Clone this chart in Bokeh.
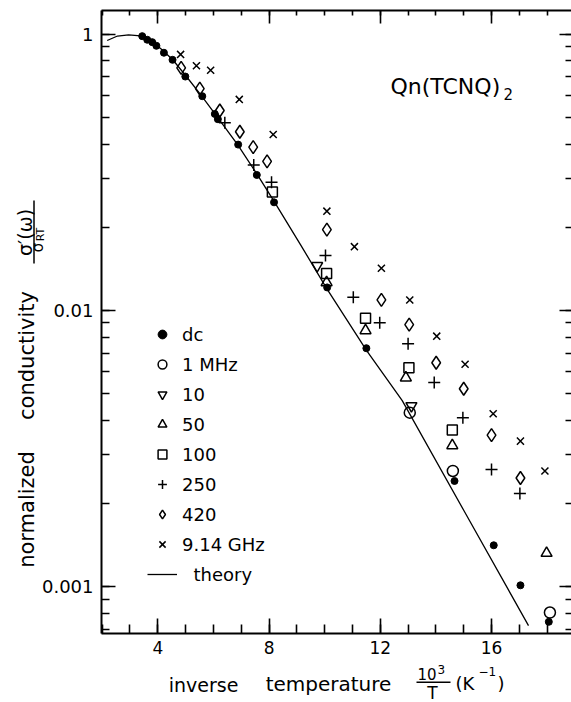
from bokeh.plotting import figure
from bokeh.models import (Range1d, LinearAxis, LogAxis, LogTicker, SingleIntervalTicker,
                          Label, Legend, LegendItem, Arrow, CustomJSTickFormatter)
from bokeh.embed import file_html
from bokeh.resources import INLINE

# ---------------- data ----------------
dc_x = [3.44, 3.62, 3.80, 3.95, 4.22, 4.53, 4.99, 5.60, 6.05, 6.16, 6.89, 7.56, 8.18,
        10.09, 11.50, 14.67, 16.08, 17.04, 18.06]
dc_y = [0.983, 0.954, 0.935, 0.907, 0.856, 0.807, 0.702, 0.596, 0.514, 0.492, 0.398, 0.309, 0.246,
        0.121, 0.0729, 0.0241, 0.0141, 0.0101, 0.00745]
mhz1_x = [13.06, 14.61, 18.10]
mhz1_y = [0.0426, 0.0262, 0.00805]
mhz10_x = [9.73, 13.12]
mhz10_y = [0.145, 0.0451]
mhz50_x = [10.07, 11.47, 12.92, 14.59, 17.98]
mhz50_y = [0.126, 0.0845, 0.0570, 0.0324, 0.0132]
mhz100_x = [8.12, 10.07, 11.47, 13.03, 14.59]
mhz100_y = [0.268, 0.136, 0.0936, 0.0619, 0.0369]
mhz250_x = [6.41, 7.45, 8.09, 10.03, 11.03, 11.98, 13.00, 13.94, 14.97, 16.00, 17.02]
mhz250_y = [0.478, 0.336, 0.291, 0.158, 0.1115, 0.0901, 0.0756, 0.0548, 0.0408, 0.0265, 0.0217]
mhz420_x = [4.84, 5.51, 6.23, 6.95, 7.43, 7.93, 10.08, 12.04, 13.04, 14.01, 15.00, 16.00, 17.04]
mhz420_y = [0.755, 0.635, 0.529, 0.443, 0.390, 0.346, 0.196, 0.109, 0.0888, 0.0646, 0.0520, 0.0353, 0.0247]
ghz_x = [4.82, 5.39, 5.90, 6.93, 8.15, 10.08, 11.07, 12.04, 13.06, 14.03, 15.05, 16.06, 17.04, 17.92]
ghz_y = [0.844, 0.768, 0.740, 0.580, 0.433, 0.2285, 0.170, 0.142, 0.109, 0.0806, 0.0638, 0.0422, 0.0336, 0.0262]
theory_x = [2.18, 2.55, 2.95, 3.38, 3.74, 4.10, 4.53, 5.00, 5.54, 6.15, 6.87, 7.55, 8.16,
            9.13, 10.07, 11.51, 12.79, 15.01, 17.33]
theory_y = [0.948, 0.984, 0.994, 0.986, 0.948, 0.887, 0.809, 0.708, 0.604, 0.499, 0.398, 0.313, 0.250,
            0.173, 0.120, 0.0715, 0.0471, 0.0188, 0.00722]

legend_labels = ["dc", "1 MHz", "10", "50", "100", "250", "420", "9.14 GHz", "  theory"]
y_tick_labels = {1: "1", 0.1: "0.01", 0.01: "0.001"}
title_text = "Qn(TCNQ)"

# axis box (data units)
X0, X1 = 1.976, 18.88
Y0, Y1 = 0.00674, 1.217

FONT = "DejaVu Sans"

# the frame covers the whole canvas; the axes are drawn at fixed data locations
p = figure(width=571, height=702, x_range=Range1d(-1.656, 18.876), y_range=Range1d(0.003802, 1.3232),
           y_axis_type="log", output_backend="svg", toolbar_location=None,
           min_border_left=0, min_border_right=0, min_border_top=0, min_border_bottom=0)
p.grid.visible = False
p.outline_line_color = None
p.background_fill_color = "white"
p.border_fill_color = "white"

# ---------------- axes ----------------
p.xaxis.ticker = SingleIntervalTicker(interval=4, num_minor_ticks=4)
p.yaxis.ticker = LogTicker(num_minor_ticks=10)
p.yaxis.major_label_overrides = y_tick_labels
p.xaxis.fixed_location = Y0
p.yaxis.fixed_location = X0

blank = CustomJSTickFormatter(code="return ''")
top = LinearAxis(ticker=SingleIntervalTicker(interval=4, num_minor_ticks=4), formatter=blank,
                 fixed_location=Y1)
right = LogAxis(ticker=LogTicker(num_minor_ticks=10), formatter=blank, fixed_location=X1)
p.add_layout(top, "above")
p.add_layout(right, "right")

for ax in p.xaxis:
    ax.bounds = (X0, X1)
for ax in p.yaxis:
    ax.bounds = (Y0, Y1)

for ax in p.xaxis + p.yaxis:
    ax.axis_line_width = 2
    ax.axis_line_color = "black"
    ax.major_tick_out = 0
    ax.minor_tick_out = 0
    ax.major_tick_line_width = 1.6
    ax.minor_tick_line_width = 1.6
    ax.major_tick_line_color = "black"
    ax.minor_tick_line_color = "black"
    ax.major_label_text_font = FONT
    ax.major_label_text_color = "black"

p.below[0].major_label_text_font_size = "17px"
p.below[0].major_tick_in = 15
p.below[0].minor_tick_in = 9
p.below[0].major_label_standoff = 7
p.left[0].major_label_text_font_size = "18px"
p.left[0].major_tick_in = 14
p.left[0].minor_tick_in = 8
p.left[0].major_label_standoff = 8
for ax in (top, right):
    ax.major_label_text_font_size = "1px"
    ax.major_label_standoff = 0
top.major_tick_in = 13
top.minor_tick_in = 5
right.major_tick_in = 12
right.minor_tick_in = 6
right.axis_line_color = None

# ---------------- data glyphs ----------------
r_theory = p.line(theory_x, theory_y, line_color="black", line_width=1.3)
common = dict(line_color="black", line_width=1.5, fill_alpha=0)
r_dc = p.scatter(dc_x, dc_y, marker="circle", size=7, fill_color="black", line_color="black")
r_1 = p.scatter(mhz1_x, mhz1_y, marker="circle", size=11, **common)
r_10 = p.scatter(mhz10_x, mhz10_y, marker="inverted_triangle", size=11, **common)
r_50 = p.scatter(mhz50_x, mhz50_y, marker="triangle", size=11, **common)
r_100 = p.scatter(mhz100_x, mhz100_y, marker="square", size=10, **common)
r_250 = p.scatter(mhz250_x, mhz250_y, marker="cross", size=12, line_color="black", line_width=1.5)
r_420 = p.scatter(mhz420_x, mhz420_y, marker="diamond", size=13, **common)
r_ghz = p.scatter(ghz_x, ghz_y, marker="x", size=10, line_color="black", line_width=1.5)

renderers = [r_dc, r_1, r_10, r_50, r_100, r_250, r_420, r_ghz, r_theory]
legend = Legend(items=[LegendItem(label=l, renderers=[r]) for l, r in zip(legend_labels, renderers)],
                location=(147, 117), orientation="vertical",
                glyph_width=30, glyph_height=22, label_height=22, label_standoff=5, spacing=8,
                padding=0, margin=0, border_line_color=None, background_fill_alpha=0,
                label_text_font=FONT, label_text_font_size="18px", label_text_color="black")
p.add_layout(legend, "center")

# ---------------- texts (screen px, origin bottom-left of canvas) ----------------
def lab(text, x, y, size, angle=0.0, align="left", baseline="alphabetic"):
    p.add_layout(Label(text=text, x=x, y=y, x_units="screen", y_units="screen", angle=angle,
                       text_font=FONT, text_font_size=size, text_align=align,
                       text_baseline=baseline, text_color="black"))

def bar(x0, y0, x1, y1):
    p.add_layout(Arrow(end=None, x_start=x0, y_start=y0, x_end=x1, y_end=y1,
                       start_units="screen", end_units="screen",
                       line_color="black", line_width=1.5))

# compound name
lab(title_text, 390, 616, "22px")
lab("2", 503, 609, "15px")

# x axis title
lab("inverse", 203, 18, "19px", align="center")
lab("temperature", 328, 18.5, "20px", align="center")
lab("10", 417, 29, "15px")
lab("3", 437, 33.5, "12px")
bar(416, 20.3, 450, 20.3)
lab("T", 432, 10, "17px", align="center")
lab("(K", 455, 19, "18px")
lab("\u22121", 478, 31, "12px")
lab(")", 497, 19, "18px")

# y axis title (rotated)
A = 1.5707963
lab("normalized", 26.5, 193, "21px", angle=A, align="center")
lab("conductivity", 26.5, 347, "21px", angle=A, align="center")
lab("\u03c3\u2032(\u03c9)", 24, 470, "19px", angle=A, align="center")
bar(33.5, 439, 33.5, 502)
lab("\u03c3", 37.5, 455, "15px", angle=A, align="center")
lab("RT", 39.5, 468, "11px", angle=A, align="center")

open("out.html", "w").write(file_html(p, INLINE))
